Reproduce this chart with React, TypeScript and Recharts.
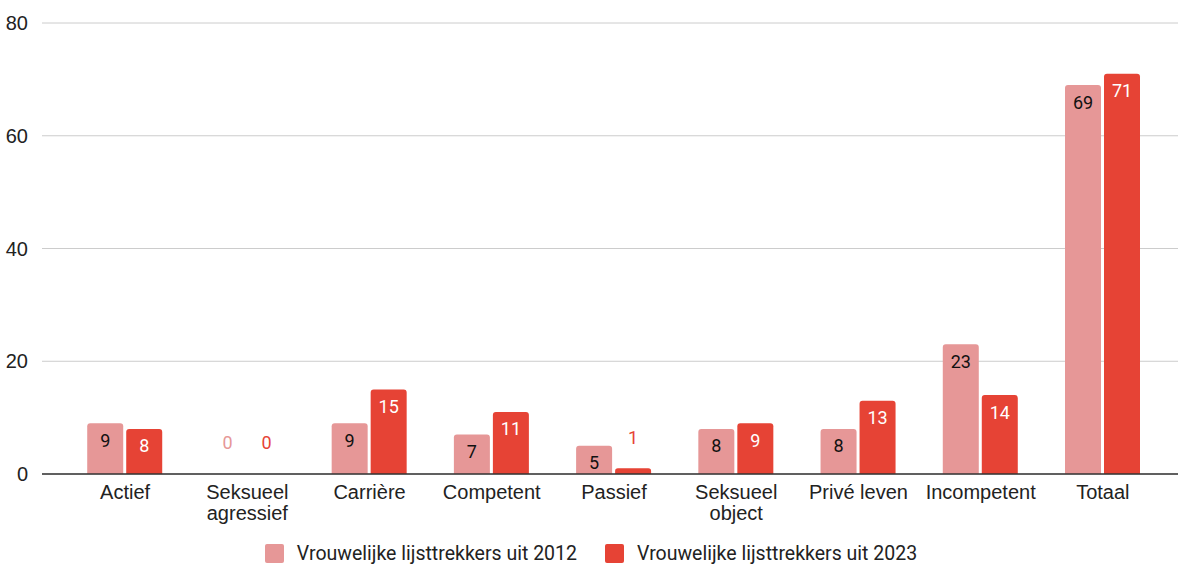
import React from 'react';
import { BarChart, Bar, XAxis, YAxis, CartesianGrid, Legend } from 'recharts';

const categories = ['Actief', 'Seksueel agressief', 'Carrière', 'Competent', 'Passief', 'Seksueel object', 'Privé leven', 'Incompetent', 'Totaal'];
const values2012 = [9, 0, 9, 7, 5, 8, 8, 23, 69];
const values2023 = [8, 0, 15, 11, 1, 9, 13, 14, 71];
const yTicks = [0, 20, 40, 60, 80];

const SERIES = [
  { key: 'y2012', name: 'Vrouwelijke lijsttrekkers uit 2012', color: '#E69797', inside: '#111111' },
  { key: 'y2023', name: 'Vrouwelijke lijsttrekkers uit 2023', color: '#E64335', inside: '#FFFFFF' },
];

const data = categories.map((name, i) => ({ name, y2012: values2012[i], y2023: values2023[i] }));

const AXIS_FONT = '"Liberation Sans", Arial, sans-serif';
const LABEL_FONT = 'Roboto, "Liberation Sans", sans-serif';

const makeLabel = (color: string, inside: string) => (props: any) => {
  const { x, y, width, height, value, index } = props;
  const cx = Number(x) + Number(width) / 2;
  const small = Number(height) < 25;
  return (
    <text
      key={`lbl-${index}`}
      x={cx}
      y={small ? Number(y) - 31 : Number(y) + 17}
      fill={small ? color : inside}
      textAnchor="middle"
      dominantBaseline="central"
      fontFamily={LABEL_FONT}
      fontSize={18}
    >
      {value}
    </text>
  );
};

// long labels go on two lines, like the original
const CategoryTick = (props: any) => {
  const { x, y, payload } = props;
  const label = String(payload.value);
  const lines = label.length > 12 ? label.split(' ') : [label];
  return (
    <text x={x} y={y + 1} textAnchor="middle" fontFamily={AXIS_FONT} fontSize={20} fill="#222">
      {lines.map((line, i) => (
        <tspan key={i} x={x} dy={i === 0 ? '0.8em' : 21}>
          {line}
        </tspan>
      ))}
    </text>
  );
};

const renderLegend = () => (
  <div style={{ display: 'flex', justifyContent: 'center', alignItems: 'center', gap: 28, paddingTop: 18, paddingLeft: 4 }}>
    {SERIES.map((s) => (
      <div key={s.key} style={{ display: 'flex', alignItems: 'center' }}>
        <span style={{ width: 19, height: 19, background: s.color, borderRadius: 2, marginRight: 13, display: 'inline-block' }} />
        <span style={{ fontFamily: LABEL_FONT, fontSize: 19.5, color: '#222' }}>{s.name}</span>
      </div>
    ))}
  </div>
);

export default function App() {
  return (
    <div style={{ width: 1178, height: 564, background: '#fff' }}>
      <style>{'body{margin:0}'}</style>
      <BarChart
        width={1178}
        height={564}
        data={data}
        margin={{ top: 23, right: 0, bottom: 0, left: 0 }}
        barCategoryGap="19%"
        barGap={3}
      >
        <CartesianGrid vertical={false} stroke="#cccccc" />
        <XAxis
          dataKey="name"
          height={50}
          interval={0}
          tickLine={false}
          axisLine={{ stroke: '#333', strokeWidth: 1.5 }}
          tick={<CategoryTick />}
          padding={{ left: 22, right: 14 }}
        />
        <YAxis
          width={42}
          domain={[0, 80]}
          ticks={yTicks}
          tickLine={false}
          axisLine={false}
          tickMargin={8}
          tick={{ fontFamily: AXIS_FONT, fontSize: 20, fill: '#222' }}
        />
        <Legend verticalAlign="bottom" height={40} content={renderLegend} />
        {SERIES.map((s) => (
          <Bar
            key={s.key}
            dataKey={s.key}
            name={s.name}
            fill={s.color}
            radius={[3, 3, 0, 0]}
            minPointSize={0.01}
            isAnimationActive={false}
            label={makeLabel(s.color, s.inside)}
          />
        ))}
      </BarChart>
    </div>
  );
}
